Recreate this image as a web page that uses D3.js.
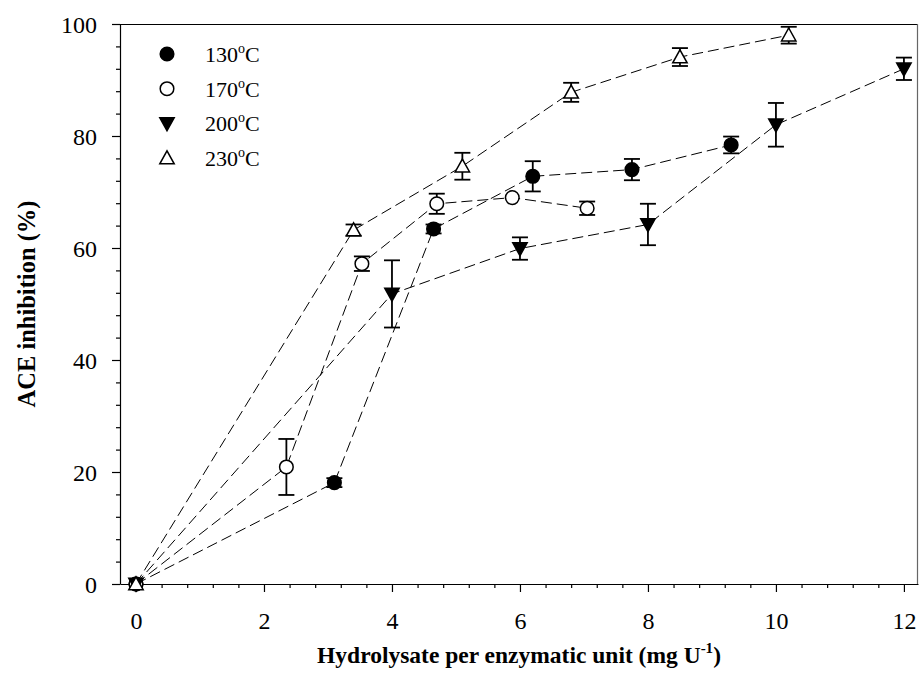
<!DOCTYPE html>
<html>
<head>
<meta charset="utf-8">
<script src="https://cdn.jsdelivr.net/npm/d3@7"></script>
<style>
  body { margin: 0; background: #fff; }
  svg { display: block; }
  svg text { font-family: "Liberation Serif", "Times New Roman", serif; }
</style>
</head>
<body>
<svg id="chart" width="919" height="690"></svg>
<script>
// Hydrolysate dose (mg U^-1) for each hydrolysis temperature
const x130 = [0, 3.1, 4.65, 6.2, 7.75, 9.3];
const x170 = [0, 2.35, 3.53, 4.7, 5.88, 7.05];
const x200 = [0, 4, 6, 8, 10, 12];
const x230 = [0, 3.4, 5.1, 6.8, 8.5, 10.2];

// ACE inhibition (%) means
const y130 = [0, 18.1, 63.4, 72.8, 74.0, 78.4];
const y170 = [0, 20.9, 57.2, 67.9, 69.0, 67.1];
const y200 = [0, 51.8, 59.9, 64.2, 82.0, 92.0];
const y230 = [0, 63.2, 74.6, 87.8, 94.1, 98.0];

// Standard deviations
const e130 = [0, 0.8, 0.8, 2.7, 1.9, 1.5];
const e170 = [0, 5.0, 1.3, 1.8, 0, 1.2];
const e200 = [0, 6.0, 2.0, 3.7, 3.9, 2.0];
const e230 = [0, 1.0, 2.4, 1.7, 1.6, 1.5];

const seriesNames = ["130", "170", "200", "230"];
const xTicks = [0, 2, 4, 6, 8, 10, 12];
const yTicks = [0, 20, 40, 60, 80, 100];

const series = [
  { name: seriesNames[0], xs: x130, ys: y130, es: e130, shape: "circle", fill: "#000" },
  { name: seriesNames[1], xs: x170, ys: y170, es: e170, shape: "circle", fill: "#fff" },
  { name: seriesNames[2], xs: x200, ys: y200, es: e200, shape: "down", fill: "#000" },
  { name: seriesNames[3], xs: x230, ys: y230, es: e230, shape: "up", fill: "#fff" }
];

const FONT = '"Liberation Serif", "Times New Roman", serif';
const plotL = 120, plotR = 918, plotT = 24, plotB = 584;
const svg = d3.select("#chart");

const x = d3.scaleLinear().domain([-0.25, 12.22]).range([plotL, plotR]);
const y = d3.scaleLinear().domain([0, 100]).range([plotB, plotT]);

// frame: top and right edges
svg.append("line").attr("x1", plotL).attr("x2", plotR).attr("y1", plotT + 0.5).attr("y2", plotT + 0.5)
  .attr("stroke", "#000").attr("stroke-width", 1.2);
svg.append("line").attr("x1", plotR - 0.5).attr("x2", plotR - 0.5).attr("y1", plotT).attr("y2", plotB)
  .attr("stroke", "#666").attr("stroke-width", 1.2);

// minor ticks
const xMinor = d3.range(0.4, 12.01, 0.4).filter(v => Math.abs(v / 2 - Math.round(v / 2)) > 1e-6);
const yMinor = d3.range(4, 100, 4).filter(v => v % 20 !== 0);

svg.append("g").attr("transform", `translate(0,${plotB})`)
  .call(d3.axisBottom(x).tickValues(xMinor).tickSize(4).tickFormat(""))
  .call(g => g.select(".domain").remove());
svg.append("g").attr("transform", `translate(${plotL},0)`)
  .call(d3.axisLeft(y).tickValues(yMinor).tickSize(4).tickFormat(""))
  .call(g => g.select(".domain").remove());

// major axes
const xAxis = svg.append("g").attr("transform", `translate(0,${plotB})`)
  .call(d3.axisBottom(x).tickValues(xTicks).tickSize(8).tickSizeOuter(0).tickPadding(20));
const yAxis = svg.append("g").attr("transform", `translate(${plotL},0)`)
  .call(d3.axisLeft(y).tickValues(yTicks).tickSize(8).tickSizeOuter(0).tickPadding(15));

[xAxis, yAxis].forEach(g => {
  g.attr("font-family", FONT).attr("font-size", 24);
  g.selectAll("text").style("font-family", FONT).attr("font-size", 24).attr("fill", "#000");
  g.select(".domain").attr("stroke", "#000").attr("stroke-width", 1.2);
});
svg.selectAll(".tick line").attr("stroke", "#000").attr("stroke-width", 1.2);
yAxis.selectAll("text").attr("dy", "0.34em");

// axis titles
const xt = svg.append("text").attr("x", (plotL + plotR) / 2).attr("y", 663)
  .attr("text-anchor", "middle").attr("font-weight", "bold").attr("font-size", 23.5)
  .style("font-family", FONT);
xt.append("tspan").text("Hydrolysate per enzymatic unit (mg U");
xt.append("tspan").attr("font-size", 15).attr("dy", -10).text("-1");
xt.append("tspan").attr("dy", 10).text(")");

svg.append("text")
  .attr("transform", `translate(35,${(plotT + plotB) / 2}) rotate(-90)`)
  .attr("text-anchor", "middle").attr("font-weight", "bold").attr("font-size", 24.5)
  .style("font-family", FONT)
  .text("ACE inhibition (%)");

// marker drawing helper
function marker(g, shape, fill, cx, cy) {
  if (shape === "circle") {
    g.append("circle").attr("cx", cx).attr("cy", cy).attr("r", 6.8)
      .attr("fill", fill).attr("stroke", "#000").attr("stroke-width", 1.5);
  } else {
    const s = 7.2;
    const pts = shape === "down"
      ? [[cx - s, cy - s * 0.8], [cx + s, cy - s * 0.8], [cx, cy + s * 1.0]]
      : [[cx - s, cy + s * 0.8], [cx + s, cy + s * 0.8], [cx, cy - s * 1.0]];
    g.append("path").attr("d", "M" + pts.map(p => p.join(",")).join("L") + "Z")
      .attr("fill", fill).attr("stroke", "#000").attr("stroke-width", 1.5)
      .attr("stroke-linejoin", "miter");
  }
}

// dashed connecting lines
const line = d3.line().x(d => x(d[0])).y(d => y(d[1]));
series.forEach(s => {
  svg.append("path").datum(s.xs.map((v, i) => [v, s.ys[i]]))
    .attr("d", line).attr("fill", "none").attr("stroke", "#000")
    .attr("stroke-width", 1).attr("stroke-dasharray", "11,5");
});

// error bars and markers
series.forEach(s => {
  const g = svg.append("g");
  s.xs.forEach((v, i) => {
    const e = s.es[i];
    if (e > 0) {
      const cx = x(v), y1 = y(s.ys[i] + e), y2 = y(s.ys[i] - e);
      g.append("line").attr("x1", cx).attr("x2", cx).attr("y1", y1).attr("y2", y2)
        .attr("stroke", "#000").attr("stroke-width", 1.8);
      [y1, y2].forEach(yy => g.append("line").attr("x1", cx - 8).attr("x2", cx + 8)
        .attr("y1", yy).attr("y2", yy).attr("stroke", "#000").attr("stroke-width", 1.8));
    }
    marker(g, s.shape, s.fill, x(v), y(s.ys[i]));
  });
});

// legend
const legend = svg.append("g");
series.forEach((s, i) => {
  const ly = 54 + i * 34.7;
  marker(legend, s.shape, s.fill, 167, ly);
  const t = legend.append("text").attr("x", 205).attr("y", ly + 8).attr("font-size", 22)
    .style("font-family", FONT);
  t.append("tspan").text(s.name);
  t.append("tspan").attr("font-size", 14).attr("dy", -9).text("o");
  t.append("tspan").attr("dy", 9).text("C");
});
</script>
</body>
</html>
